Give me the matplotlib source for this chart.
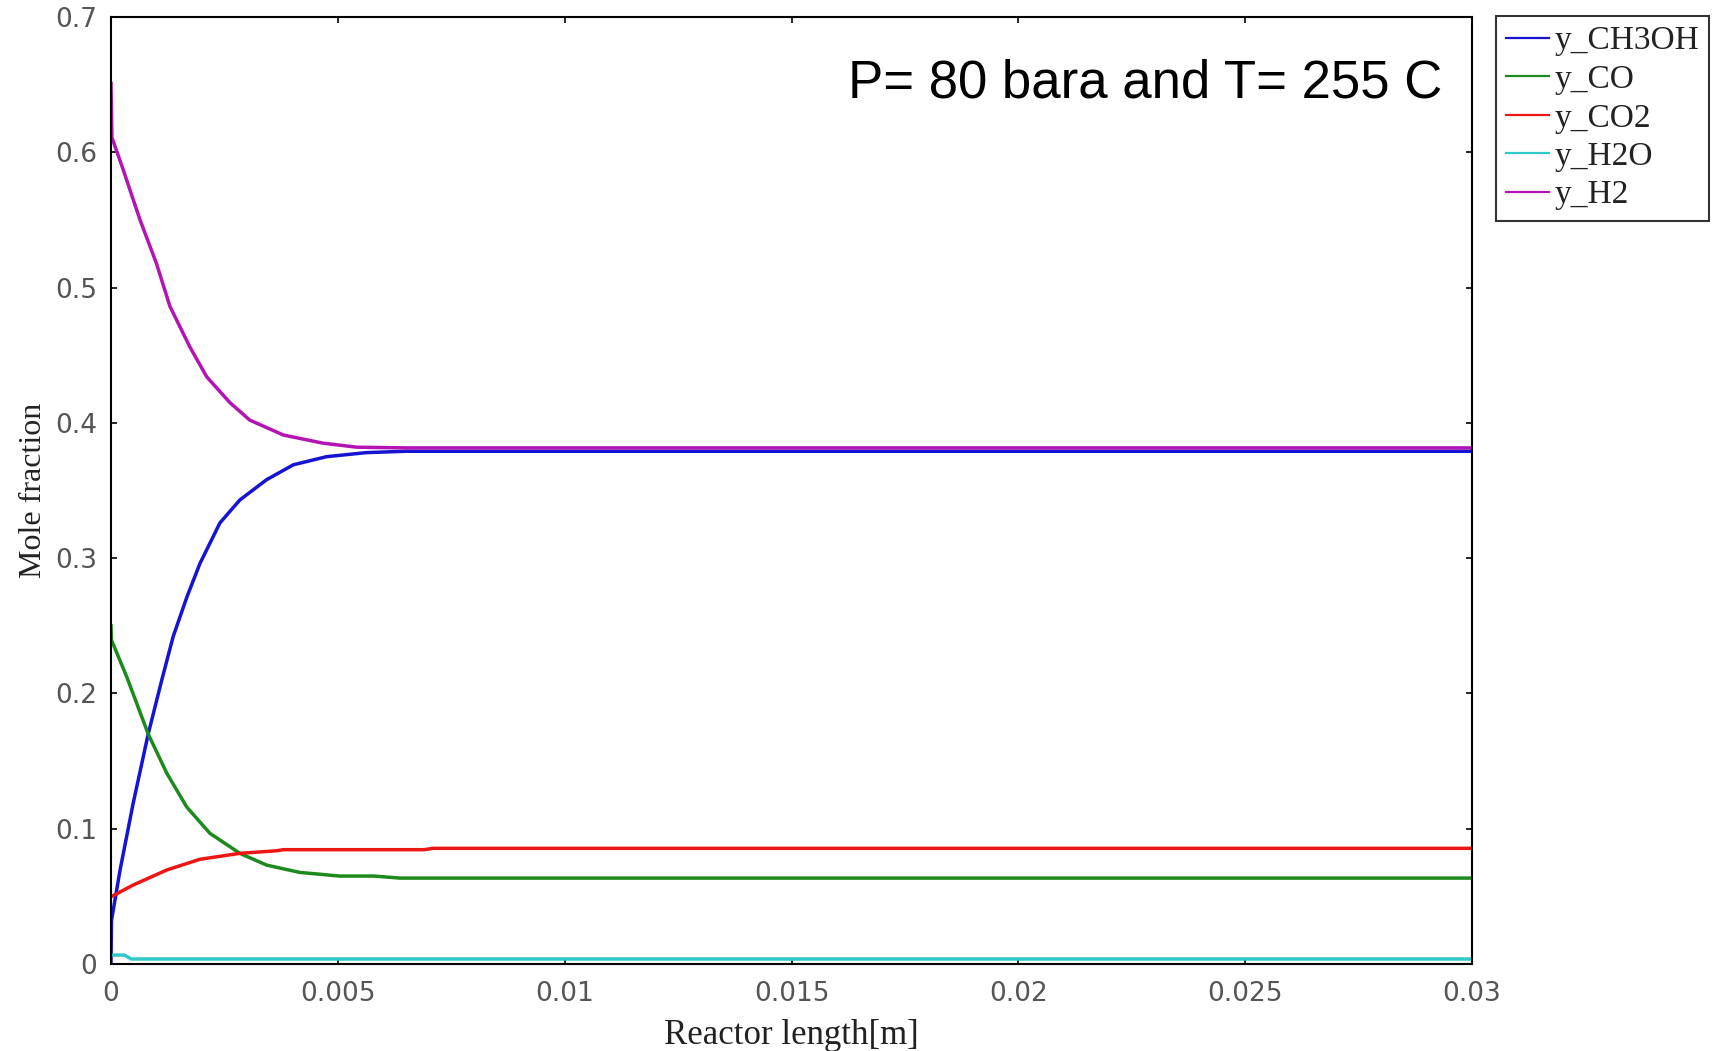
import numpy as np
import matplotlib
matplotlib.use("Agg")
import matplotlib.pyplot as plt

# ---------------- dane ----------------
x_ch3oh = [0.0, 0.00001, 0.0002, 0.00049, 0.00082, 0.00112, 0.00137, 0.00167, 0.00196,
           0.0024, 0.00284, 0.00343, 0.00402, 0.00475, 0.00563, 0.0065, 0.03]
y_ch3oh = [0.0, 0.032, 0.0695, 0.119, 0.170, 0.210, 0.242, 0.271, 0.296,
           0.326, 0.343, 0.358, 0.369, 0.375, 0.378, 0.379, 0.379]

x_co = [0.0, 0.00001, 0.00035, 0.00082, 0.00123, 0.00167, 0.00218, 0.00284, 0.00343,
        0.00416, 0.00504, 0.0058, 0.00637, 0.03]
y_co = [0.25, 0.2395, 0.212, 0.170, 0.141, 0.116, 0.0966, 0.0818, 0.0731,
        0.0677, 0.065, 0.065, 0.0635, 0.0635]

x_co2 = [0.0, 0.00049, 0.00123, 0.00196, 0.00284, 0.00365, 0.0038, 0.0069, 0.0071, 0.03]
y_co2 = [0.0497, 0.0584, 0.0695, 0.0774, 0.0818, 0.0837, 0.0845, 0.0845, 0.0855, 0.0855]

x_h2o = [0.0, 0.00029, 0.00045, 0.03]
y_h2o = [0.0066, 0.0066, 0.0037, 0.0037]

x_h2 = [0.0, 0.00002, 0.00027, 0.00064, 0.001, 0.0013, 0.00174, 0.00211, 0.00262,
        0.00306, 0.0038, 0.00467, 0.00542, 0.0065, 0.03]
y_h2 = [0.651, 0.611, 0.587, 0.550, 0.518, 0.486, 0.456, 0.434, 0.415,
        0.402, 0.391, 0.385, 0.382, 0.3815, 0.3815]

serie = ["y_CH3OH", "y_CO", "y_CO2", "y_H2O", "y_H2"]
kolory = ["#1414d2", "#1c8a1c", "#ee1515", "#30c8c8", "#b414b4"]

x_ticks = [0, 0.005, 0.01, 0.015, 0.02, 0.025, 0.03]
x_tick_labels = ["0", "0.005", "0.01", "0.015", "0.02", "0.025", "0.03"]
y_ticks = [0, 0.1, 0.2, 0.3, 0.4, 0.5, 0.6, 0.7]
y_tick_labels = ["0", "0.1", "0.2", "0.3", "0.4", "0.5", "0.6", "0.7"]

opis = "P= 80 bara and T= 255 C"

# ---------------- wykres ----------------
W, H = 1713, 1051
fig = plt.figure(figsize=(W / 100, H / 100), dpi=100)
ax = fig.add_axes([111 / W, 1 - 964 / H, (1472 - 111) / W, (964 - 17) / H])

dane = [(x_ch3oh, y_ch3oh), (x_co, y_co), (x_co2, y_co2), (x_h2o, y_h2o), (x_h2, y_h2)]
for (xs, ys), nazwa, kol in zip(dane, serie, kolory):
    ax.plot(xs, ys, color=kol, lw=2.5, label=nazwa, solid_joinstyle="round")

ax.set_xlim(0, 0.03)
ax.set_ylim(0, 0.7)
ax.set_xticks(x_ticks)
ax.set_xticklabels(x_tick_labels)
ax.set_yticks(y_ticks)
ax.set_yticklabels(y_tick_labels)
ax.tick_params(direction="in", length=4, width=1.2, top=True, right=True,
               labelsize=19, labelcolor="#555555", pad=10)
ax.tick_params(axis="x", pad=12)
for lab in ax.get_xticklabels() + ax.get_yticklabels():
    lab.set_family("DejaVu Sans")
for s in ax.spines.values():
    s.set_linewidth(1.5)
    s.set_color("black")

ax.set_xlabel("Reactor length[m]", family="Liberation Serif", fontsize=25,
              color="#222222", labelpad=9)
ax.set_ylabel("Mole fraction", family="Liberation Serif", fontsize=23,
              color="#222222", labelpad=5)

fig.text(1442 / W, 1 - 98 / H, opis, family="Liberation Sans", fontsize=38,
         ha="right", va="baseline", color="black")

# legenda - wychodzi poza prawą krawędź (jak w oryginale)
uchwyty = [plt.Line2D([], [], color=k, lw=1.6) for k in kolory]
leg = fig.legend(uchwyty, serie, loc="upper left",
                 bbox_to_anchor=(1496 / W, 1 - 16 / H), borderaxespad=0,
                 prop={"family": "Liberation Serif", "size": 24},
                 frameon=True, fancybox=False, edgecolor="black",
                 handlelength=1.3, handletextpad=0.15, labelspacing=0.24,
                 borderpad=0.3)
leg.get_frame().set_linewidth(1.5)
for t in leg.get_texts():
    t.set_color("#222222")

fig.savefig("out.png", dpi=100)
